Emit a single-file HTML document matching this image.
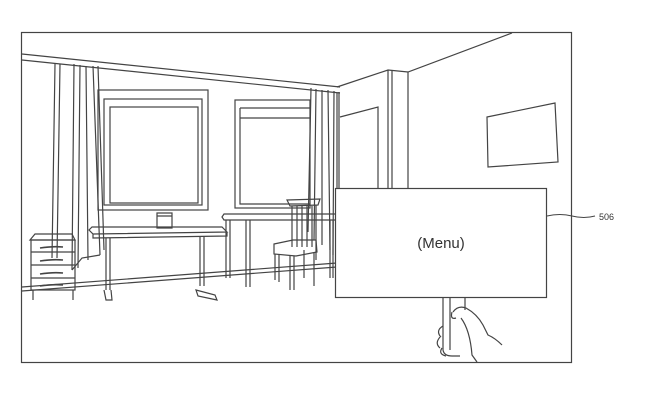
<!DOCTYPE html>
<html><head><meta charset="utf-8"><style>
html,body{margin:0;padding:0;background:#fff;width:646px;height:406px;overflow:hidden}
svg{display:block}
</style></head><body>
<svg width="646" height="406" viewBox="0 0 646 406" xmlns="http://www.w3.org/2000/svg" fill="none" stroke="#444" stroke-width="1.2">
<rect x="21.5" y="32.5" width="550" height="330"/>
<path d="M22 54 L340 87 M22 60 L340 93"/>
<path d="M337 87 L388 70 L408 72 L512 33"/>
<path d="M388 70 V188 M392 70 V188 M408 72 V188"/>
<path d="M340 117 L378 107 V188"/>
<path d="M487 117 L555 103 L558 162 L488 167 Z"/>
<path d="M55 64 L52 258 M60 64 L57 258 M74 64 L72 270 M80 65 L78 268 M86 66 L88 260 M93 66 L100 255 M98 66 L104 250"/>
<path d="M72 270 L82 258 L100 255"/>
<path d="M311 88 L308 232 M316 89 L314 240 M322 90 L322 245 M328 90 L330 250 M334 91 L333 255 M339 92 L339 275"/>
<rect x="98" y="90" width="110" height="120"/>
<rect x="104" y="99" width="98" height="106"/>
<rect x="110" y="107" width="88" height="96"/>
<rect x="235" y="100" width="75" height="108"/>
<path d="M240 108 H310 M240 118 H310 M240 108 V204 H310"/>
<path d="M22 287 L337 263 M22 291 L337 267"/>
<path d="M30 240 L35 234 H72 L75 240 Z"/>
<rect x="31" y="240" width="44" height="50"/>
<path d="M31 252 H75 M31 265 H75 M31 278 H75"/>
<path d="M40 248 Q53 246 63 247 M40 261 Q53 259 63 260 M40 274 Q53 272 63 273 M40 286 Q53 284 63 285" stroke-width="1.6"/>
<path d="M33 290 V300 M73 290 V300"/>
<path d="M89 230 L92 227 L222 227 L227 232 L93 234 Z M93 234 V238 L227 236 V232"/>
<path d="M106 238 V290 M110 238 V290 M104 290 L106 300 H112 L111 290"/>
<path d="M200 236 V286 M204 236 V286 M196 290 L215 295 L217 300 L198 296 Z"/>
<path d="M157 213 H172 V228 H157 Z M157 216 H172"/>
<path d="M222 217 L224 214 L337 214 V220 L224 220 Z"/>
<path d="M226 220 V278 M230 220 V278 M246 220 V287 M250 220 V287 M330 220 V278 M333 220 V278"/>
<path d="M287 200 L320 199 L318 205 L290 206 Z"/>
<path d="M292 206 V247 M297 206 V247 M302 206 V247 M307 206 V247 M312 206 V247 M316 205 V260"/>
<path d="M274 244 L293 240 H316 L317 252 L296 256 L274 254 Z"/>
<path d="M275 254 V280 M279 254 V282 M290 256 V290 M294 256 V290 M304 250 V278 M314 252 V286"/>
<path d="M337 93 V275"/>
<rect x="335.5" y="188.5" width="211" height="109" fill="#fff"/>
<text x="441" y="248" font-family="Liberation Sans, sans-serif" font-size="15" fill="#333" stroke="none" text-anchor="middle">(Menu)</text>
<path d="M547 216 Q560 213 572 216 T595 216" stroke-width="1"/>
<text x="599" y="220" font-family="Liberation Sans, sans-serif" font-size="9" fill="#333" stroke="none">506</text>
<path d="M443 298 V350 Q444 356 452 356 H460 M450 298 V350 M465 298 V310"/>
<path d="M453 312 Q458 305 466 308 Q477 314 483 325 L488 335 Q495 338 502 345 M452 312 Q450 320 456 318 M461 318 Q470 330 472 355 L477 362"/>
<path d="M443 326 Q436 330 440 336 M441 336 Q434 343 440 348 M442 348 Q438 354 446 356"/>
</svg>
</body></html>
